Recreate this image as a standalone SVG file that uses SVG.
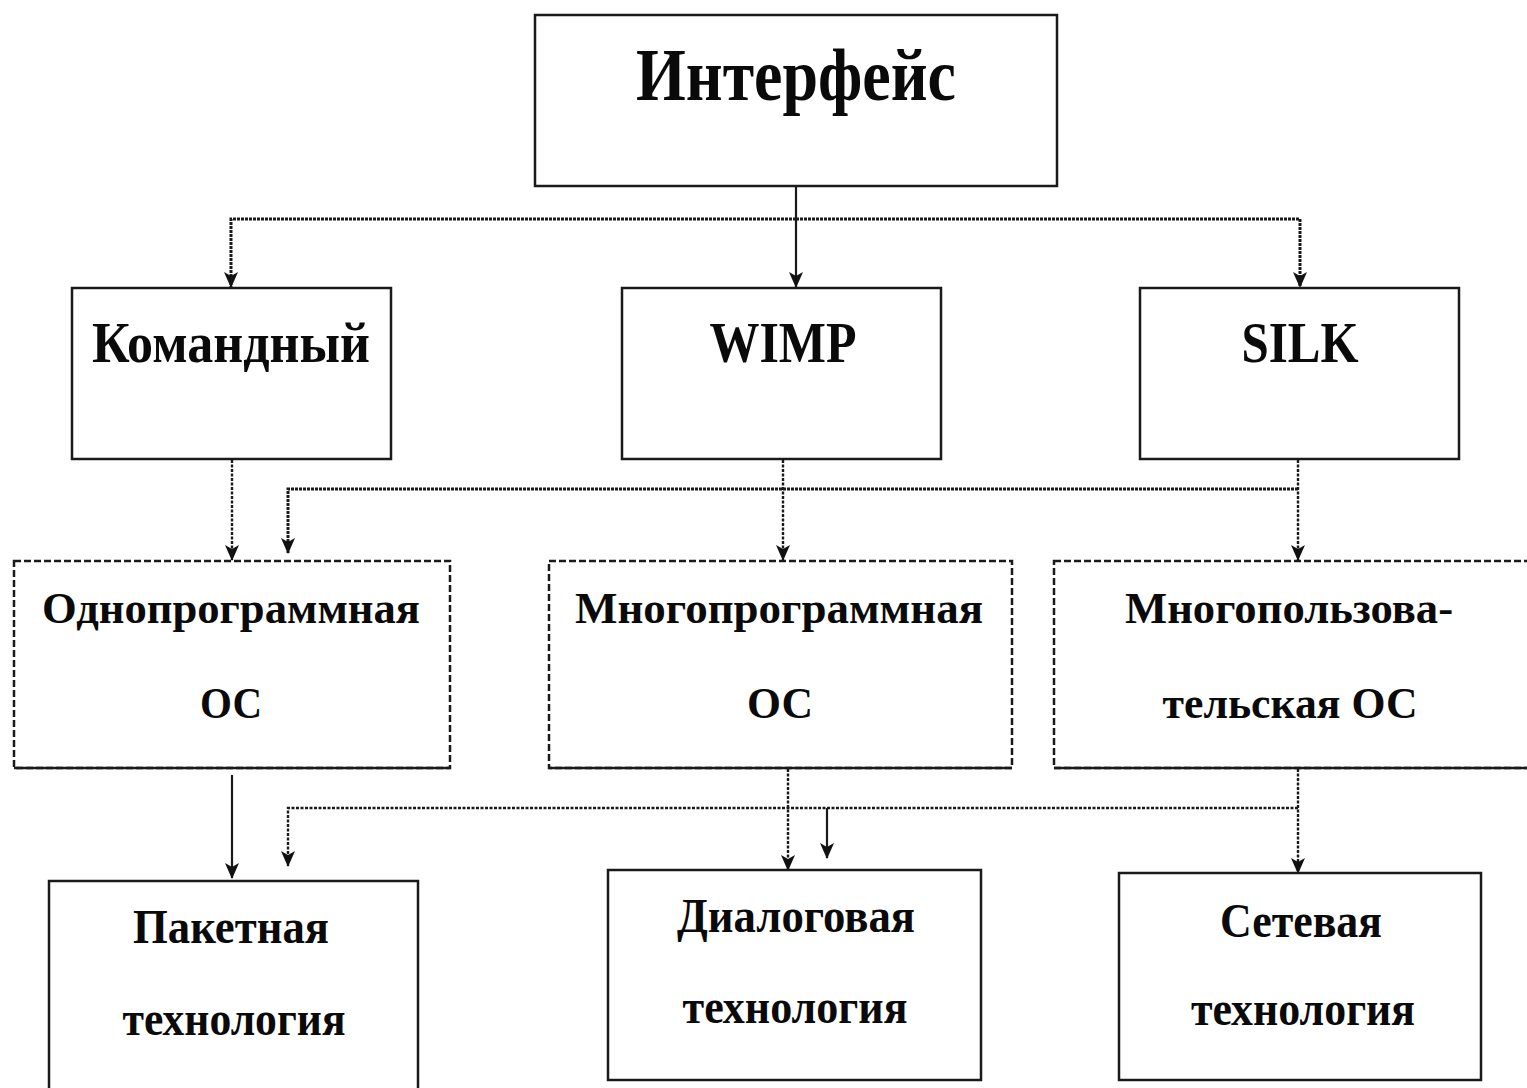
<svg xmlns="http://www.w3.org/2000/svg" width="1527" height="1088" viewBox="0 0 1527 1088">
<defs>
<style>
.box{fill:#fff;stroke:#1a1a1a;stroke-width:2.5}
.dash{stroke-dasharray:7 3}
.edge{stroke:#1a1a1a;stroke-width:2.5}
.t{font-family:"Liberation Serif","Times New Roman",serif;font-weight:bold;fill:#0a0a0a;text-anchor:middle}
.c{fill:none;stroke:#1a1a1a;marker-end:url(#ah)}
.solid{stroke-width:2.2}
.dot{stroke-width:3;stroke-dasharray:3 1}
.dot2{stroke-width:2.4;stroke-dasharray:3 1.5}
</style>
<marker id="ah" markerUnits="userSpaceOnUse" markerWidth="16" markerHeight="16" refX="15" refY="8" orient="auto" viewBox="0 0 16 16">
<path d="M0,1 L16,8 L0,15 L4,8 Z" fill="#111"/>
</marker>
</defs>
<rect width="1527" height="1088" fill="#fff"/>

<g id="connectors">
<path class="c solid" d="M796 186 V287"/>
<path class="c dot" d="M796 219 H231 V287"/>
<path class="c dot" d="M796 219 H1300 V287"/>
<path class="c dot2" d="M232 460 V560"/>
<path class="c dot2" d="M783 460 V560"/>
<path class="c dot2" d="M1298 460 V560"/>
<path class="c dot" d="M1298 489 H288 V553"/>
<path class="c solid" d="M232 775 V878"/>
<path class="c dot2" d="M788 769 V870"/>
<path class="c dot2" d="M1298 769 V873"/>
<path class="c dot2" d="M1298 808 H288 V866"/>
<path class="c solid" d="M827 808 V858"/>
</g>

<g id="n-interface">
<rect class="box" x="535" y="15" width="522" height="171"/>
<text class="t" x="796" y="100" font-size="75" textLength="320" lengthAdjust="spacingAndGlyphs">Интерфейс</text>
</g>

<g id="n-command">
<rect class="box" x="72" y="288" width="319" height="171"/>
<text class="t" x="231" y="362" font-size="58" textLength="278" lengthAdjust="spacingAndGlyphs">Командный</text>
</g>
<g id="n-wimp">
<rect class="box" x="622" y="288" width="319" height="171"/>
<text class="t" x="783" y="362" font-size="58" textLength="147" lengthAdjust="spacingAndGlyphs">WIMP</text>
</g>
<g id="n-silk">
<rect class="box" x="1140" y="288" width="319" height="171"/>
<text class="t" x="1300" y="362" font-size="58" textLength="117" lengthAdjust="spacingAndGlyphs">SILK</text>
</g>

<g id="n-single">
<rect class="box dash" x="14" y="561" width="436" height="207"/>
<line class="edge" x1="14" y1="768" x2="450" y2="768"/>
<text class="t" x="231" y="623" font-size="44" textLength="378" lengthAdjust="spacingAndGlyphs">Однопрограммная</text>
<text class="t" x="231" y="718" font-size="44" textLength="62" lengthAdjust="spacingAndGlyphs">ОС</text>
</g>
<g id="n-multi">
<rect class="box dash" x="549" y="561" width="463" height="207"/>
<line class="edge" x1="549" y1="768" x2="1012" y2="768"/>
<text class="t" x="779" y="623" font-size="44" textLength="408" lengthAdjust="spacingAndGlyphs">Многопрограммная</text>
<text class="t" x="780" y="718" font-size="44" textLength="66" lengthAdjust="spacingAndGlyphs">ОС</text>
</g>
<g id="n-multiuser">
<rect class="box dash" x="1054" y="561" width="490" height="207"/>
<line class="edge" x1="1054" y1="768" x2="1544" y2="768"/>
<text class="t" x="1289" y="623" font-size="44" textLength="328" lengthAdjust="spacingAndGlyphs">Многопользова-</text>
<text class="t" x="1290" y="718" font-size="44" textLength="255" lengthAdjust="spacingAndGlyphs">тельская ОС</text>
</g>

<g id="n-batch">
<rect class="box" x="49" y="881" width="369" height="230"/>
<text class="t" x="231" y="943" font-size="48" textLength="196" lengthAdjust="spacingAndGlyphs">Пакетная</text>
<text class="t" x="234" y="1035" font-size="48" textLength="223" lengthAdjust="spacingAndGlyphs">технология</text>
</g>
<g id="n-dialog">
<rect class="box" x="608" y="870" width="373" height="210"/>
<text class="t" x="796" y="932" font-size="48" textLength="238" lengthAdjust="spacingAndGlyphs">Диалоговая</text>
<text class="t" x="795" y="1023" font-size="48" textLength="225" lengthAdjust="spacingAndGlyphs">технология</text>
</g>
<g id="n-network">
<rect class="box" x="1119" y="873" width="362" height="207"/>
<text class="t" x="1301" y="937" font-size="48" textLength="162" lengthAdjust="spacingAndGlyphs">Сетевая</text>
<text class="t" x="1303" y="1025" font-size="48" textLength="224" lengthAdjust="spacingAndGlyphs">технология</text>
</g>
</svg>
